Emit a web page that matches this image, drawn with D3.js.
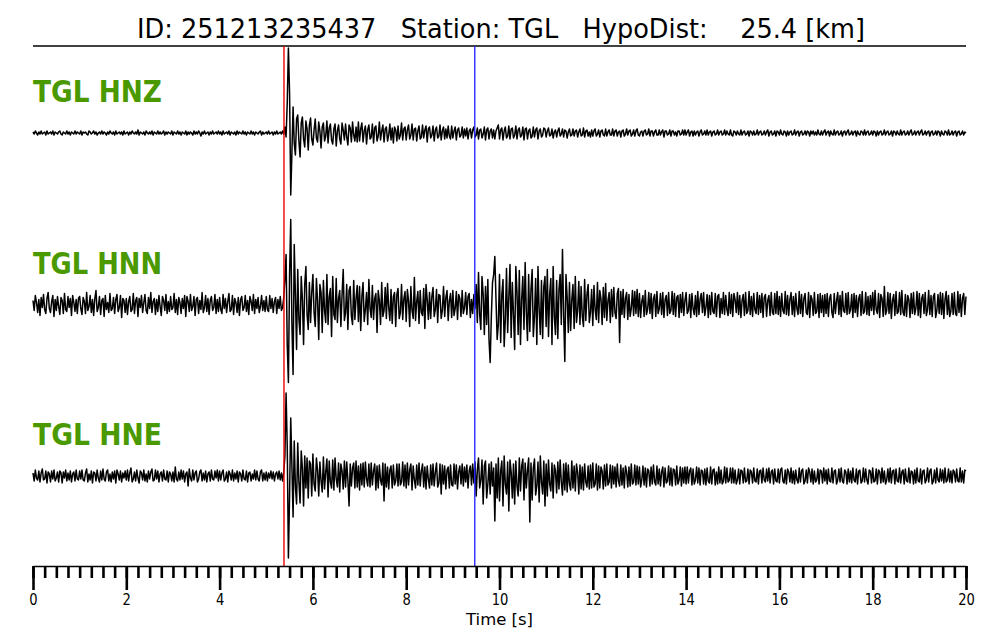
<!DOCTYPE html>
<html>
<head>
<meta charset="utf-8">
<script src="https://cdn.jsdelivr.net/npm/d3@7"></script>
<style>
  body { margin: 0; background: #fff; }
  svg { display: block; font-family: "DejaVu Sans", sans-serif; }
</style>
</head>
<body>
<svg width="1000" height="640"></svg>
<script>
let width = 1000, height = 640;

// header info
let eventId = "251213235437";
let station = "TGL";
let hypoDist = "25.4";

// picks [s]
let pPick = 5.38;
let sPick = 9.47;

// channels, one trace each (0..20 s, 40 samples per second, relative amplitude)
let channels = ["HNZ", "HNN", "HNE"];
let duration = 20;
let majorTicks = [0, 2, 4, 6, 8, 10, 12, 14, 16, 18, 20];

let hnz = [
  1,-1,2,0,-2,1,-1,2,-1,0,1,-2,2,-1,0,1,-1,2,-2,1,0,-1,1,2,-1,-2,1,0,-1,2,-1,1,-2,1,0,-1,2,-1,1,0,
  -1,2,-2,1,0,1,-1,-2,2,1,-1,0,2,-1,1,-2,0,1,-1,2,-1,1,0,-2,1,-1,2,0,-1,1,-2,2,-1,0,1,-1,1,-2,2,-1,
  0,1,-2,1,-1,2,0,-1,1,-1,3,-2,1,0,-1,1,-2,2,0,-1,1,-1,2,-2,1,0,-1,2,-1,1,-1,0,2,-2,1,-1,1,0,-1,2,
  -2,1,0,-1,2,-1,1,-2,1,0,-1,2,-2,1,-1,1,0,-2,2,-1,1,-1,2,0,-3,1,-1,2,-1,0,1,-2,1,-1,2,-1,0,1,-1,2,
  -1,1,-2,2,-1,0,1,-1,2,-2,1,0,-1,1,-2,2,-1,1,0,-1,2,-1,1,-2,1,0,-1,2,-1,1,-2,1,0,-1,1,2,-2,1,-1,0,
  1,-1,2,-1,0,1,-2,1,-1,2,-1,0,1,-1,2,-1,6,-4,30,85,40,-62,-20,26,-10,-22,14,18,-8,-24,10,16,-6,-14,12,4,-17,8,15,-6,
  -12,3,14,-5,-9,11,2,-15,6,10,-8,-3,12,-10,5,9,-7,-11,4,9,-13,2,8,-6,-11,10,3,-7,9,-4,-12,8,5,-9,11,-2,-8,6,-9,11,
  -8,4,10,-9,2,7,-11,3,8,-6,-4,9,-10,5,7,-8,-3,11,-7,2,8,-9,4,6,-8,-2,9,-7,5,-10,6,3,-8,7,-6,-2,10,-7,4,6,
  -7,3,8,-6,-2,9,-7,4,5,-8,2,7,-6,-4,8,-5,3,7,-9,4,6,-5,-2,7,-8,3,6,-5,-3,8,-7,2,6,-6,4,-5,7,-3,-6,7,
  -5,2,6,-7,3,5,-4,-2,6,-5,4,-3,5,-6,2,4,-5,3,6,-4,-2,5,-6,3,4,-5,-1,6,-7,3,5,-6,2,4,-5,3,-6,2,5,8,
  -6,3,5,-7,2,6,-5,-3,7,-6,4,5,-5,-2,7,-6,3,5,-4,-2,6,-7,4,5,-6,2,4,-5,-3,6,-4,3,5,-6,2,4,-4,-2,5,4,
  -4,2,5,-3,-2,4,-5,1,3,-4,2,5,-3,-1,4,-4,3,2,-5,1,4,-3,-2,4,-3,2,3,-4,1,4,-3,-2,5,-4,2,3,-3,1,-4,3,
  -3,2,4,-3,-1,3,-4,2,3,-2,-3,4,-3,1,3,-2,-2,4,-3,2,3,-3,1,2,-4,2,3,-3,-1,4,-2,2,3,-3,-1,3,-3,2,4,-2,
  -3,1,2,-3,2,3,-2,-1,4,-3,2,2,-3,1,3,-2,-2,3,-2,1,3,-4,2,2,-2,-1,3,-3,2,2,-2,1,-3,2,2,-2,-1,3,-2,3,
  -2,1,3,-3,1,2,-3,2,-2,1,2,-3,1,3,-2,-1,2,-2,3,-2,1,2,-3,1,2,-2,-1,3,-2,1,2,-2,-1,3,-2,2,-1,-2,3,-2,
  -3,2,1,-2,2,-1,-2,3,-2,1,2,-2,-1,2,-3,2,1,-2,2,-2,-1,3,-2,1,2,-2,-1,2,-2,1,3,-3,1,2,-2,-1,2,-3,2,1,
  -2,3,-1,-2,2,1,-3,2,-2,1,2,-2,-1,3,-2,1,2,-3,1,2,-2,-1,2,-2,2,1,-3,2,-1,2,-2,1,-2,3,-1,-2,2,-2,1,3,
  -2,1,2,-3,2,-1,-2,3,-2,1,2,-2,-1,2,-3,1,2,-2,1,3,-2,-1,2,-2,1,2,-3,2,-1,-2,2,1,-2,3,-2,1,2,-2,-1,2,
  -2,2,1,-3,2,-2,1,2,-2,-1,3,-2,1,2,-2,-1,2,-3,2,1,-2,2,-1,-2,3,-2,1,2,-2,-1,2,-2,1,3,-2,-1,2,-2,1,2,
  -2,1,3,-2,-1,2,-2,1,2,-3,1,2,-2,-1,2,-2,2,1,-3,2,-1,-2,2,1,-2,3,-2,-1,2,-2,1,2,-3,1,2,-2,-1,2,-2,1,
  0
];

let hnn = [
  4,-6,9,2,-8,5,-11,7,-3,10,-5,-9,6,12,-4,-8,3,9,-12,5,-6,8,-2,-10,7,4,-9,11,-5,-7,8,-3,6,-11,9,2,-7,5,-9,6,
  8,-4,-10,7,3,-9,12,-6,-2,9,-8,5,-11,6,14,-7,-3,8,-10,4,6,-12,9,-5,2,-8,11,-6,-4,7,-9,5,10,-7,-3,9,-13,6,4,-8,
  6,-10,3,8,-7,-5,11,-9,4,7,-12,6,-3,9,-8,2,10,-6,-9,7,-4,12,-8,3,6,-10,5,-7,9,-2,-11,8,4,-6,10,-9,3,-7,8,-5,
  -3,11,-8,5,-10,7,2,-9,6,-4,9,-12,8,3,-7,10,-6,-2,8,-11,5,7,-9,4,-5,12,-8,-3,9,-7,6,-10,4,8,-6,-3,10,-9,5,-7,
  7,-5,-9,10,-4,6,-8,3,11,-7,-5,9,-10,6,2,-8,7,-11,5,8,-6,-3,9,-7,4,-10,8,3,-6,10,-9,5,-4,7,-8,-2,9,-6,4,-7,
  8,-5,-7,9,-4,6,-8,3,7,-9,5,-4,8,-6,-3,7,25,50,-40,-78,30,85,-20,-70,60,10,-45,35,-15,-30,28,5,-40,20,38,-10,-25,22,-18,12,
  30,-8,-22,26,4,-35,20,12,-28,24,-6,-18,30,-20,8,16,-32,28,-10,-15,26,-18,6,14,-22,10,35,-16,-8,20,-25,14,18,-12,-20,24,-15,6,19,-17,
  18,-26,8,22,-17,-5,12,-20,25,-4,-13,19,-15,6,11,-28,14,4,-20,22,-12,-6,17,-14,21,-3,-16,15,-19,8,12,-22,10,16,-14,-8,20,-15,6,13,
  -17,15,4,-22,18,-6,-14,27,-16,3,13,-19,14,-8,-11,16,-24,20,5,-15,12,-14,8,17,-12,-5,15,-18,10,9,-14,-6,18,-12,7,14,-16,4,11,-13,
  14,-11,-4,13,-15,10,6,-12,14,-9,-3,12,-10,8,11,-13,5,-9,10,-4,20,-18,32,-10,-25,28,10,-30,18,-20,25,-35,-58,-12,22,30,48,5,-35,-20,
  30,-38,10,25,-42,-15,36,-28,8,40,-33,22,-10,-45,38,12,-30,34,-40,5,28,-25,42,-8,-36,30,-27,15,35,-32,-12,26,-40,38,-5,-30,24,-34,18,28,
  -22,35,-32,10,26,-40,38,-12,-30,24,-34,15,30,-20,55,-10,-57,30,8,-28,22,-26,5,20,-24,28,-18,-6,23,-20,18,-12,-22,25,-16,10,20,-18,-8,15,
  -21,19,-5,-15,22,-18,14,6,-20,17,-13,21,-16,4,12,-18,15,-12,17,-8,-14,11,16,-38,13,-10,15,-13,6,12,-15,10,-12,-4,14,-11,13,-9,15,-12,
  11,-13,3,9,-12,14,-10,-5,12,-9,11,-14,6,10,-12,13,-9,-4,11,-10,12,-13,5,9,-11,12,-9,-6,13,-10,11,-12,7,9,-13,10,-8,12,-11,4,
  12,-9,-6,10,-13,11,-4,-10,9,-12,13,-10,5,11,-8,12,-11,-3,10,-13,9,-10,12,-7,-9,11,-12,8,10,-13,6,-9,12,-10,9,-5,-11,12,-9,10,
  -12,11,5,-8,12,-10,9,-13,4,10,-11,12,-9,-6,13,-10,8,-12,11,-5,-9,12,-10,9,-8,11,-13,7,10,-12,4,9,-11,12,-8,-10,11,-9,13,-10,
  8,-12,11,-6,-9,13,-10,9,-11,5,12,-10,8,-12,11,-4,-10,13,-9,10,-12,6,11,-8,-10,12,-13,9,5,-11,12,-9,-7,10,-13,11,-8,9,-12,10,
  -9,11,-12,6,10,-8,-13,11,-9,4,12,-10,9,-12,13,-6,-8,11,-10,12,-9,-5,10,-13,11,-8,9,-12,6,10,-11,13,-9,-7,12,-10,8,-11,9,-6,
  12,-10,14,-5,-9,11,-13,10,6,-12,18,-10,-6,12,-9,11,-14,4,10,-11,13,-9,-7,12,-10,14,-8,-11,10,-12,9,5,-13,11,-9,12,-10,-4,13,-11,
  11,-13,6,10,-9,12,-11,-5,14,-10,9,-12,8,11,-13,-6,10,-9,12,-10,11,-14,5,13,-10,9,-12,-7,11,-10,12,-9,-11,13,-8,10,-12,6,11,-10,
  8
];

let hne = [
  3,-5,6,-2,-4,5,-6,3,7,-4,-3,5,-7,4,2,-6,5,-3,6,-5,-2,4,-6,5,3,-7,4,-2,6,-5,3,-4,5,-6,2,4,-5,6,-3,-4,
  5,-3,6,-4,-5,3,7,-6,2,-4,5,-7,4,3,-5,6,-2,-6,5,-4,7,-3,-5,4,6,-5,2,-6,4,-3,5,-7,6,2,-4,5,-6,3,-2,5,
  -4,6,-5,3,8,-6,-3,4,-5,6,-2,-7,5,3,-4,6,-5,2,-6,5,-3,4,7,-5,-4,6,-3,5,-6,2,4,-5,6,-3,-4,5,-6,4,2,-5,
  4,-6,9,-3,-5,4,-4,6,-3,5,-6,2,4,-10,7,-2,-5,6,-4,3,5,-6,-3,4,6,-5,3,-4,5,-6,2,4,-5,6,-3,-4,5,-2,6,-5,
  5,-4,3,6,-5,-3,4,-6,5,2,-4,6,-5,3,-3,5,-6,4,2,-5,6,-3,-4,5,-6,3,4,-5,2,-3,6,-4,5,-3,-5,4,6,-5,3,-4,
  4,-5,3,-2,5,-3,4,-5,2,4,-3,5,-4,3,-5,4,20,83,30,-82,-20,58,10,-41,35,-10,-28,33,-6,-27,25,8,-30,20,-12,18,-22,15,12,-20,
  22,-8,-15,18,6,-20,14,-5,-16,19,-13,4,17,-21,15,-6,-12,16,-14,18,-3,-11,13,-16,12,5,-13,15,-11,14,-4,-30,12,-10,8,13,-12,15,-11,10,
  -14,12,-9,13,-11,14,-3,-10,12,-11,13,-9,5,12,-14,10,-12,11,-4,-9,13,-25,12,-11,9,-13,6,10,-12,11,-9,-5,12,-10,12,-9,-6,14,-10,11,
  -12,13,-9,6,12,-14,10,-4,-12,11,-9,13,-10,5,12,-11,9,-13,10,-3,-12,11,-9,12,-10,4,13,-11,-7,12,-18,11,-8,10,-13,6,9,-12,11,-9,
  -10,12,-8,11,-13,4,10,-8,12,-10,9,-6,11,-12,5,10,-9,12,-7,14,-20,6,18,-12,-4,16,-28,10,15,-22,-8,12,-18,14,-10,8,-45,12,-22,18,
  -25,5,15,-30,20,-8,-18,14,-35,16,4,-22,12,-28,15,-10,-20,18,-15,10,17,-24,13,-12,6,18,-46,13,-24,8,17,-19,-10,14,-26,20,-6,-18,15,-30,
  12,-20,16,-8,-15,13,-22,11,5,-17,14,-13,16,-6,-19,12,-14,13,-16,11,-8,-14,15,-12,10,-15,12,4,-18,11,-13,9,-14,12,-6,-11,10,-13,11,-12,
  13,-11,-8,12,-14,10,-12,9,5,-13,11,-10,12,-9,-6,11,-12,10,-8,9,-11,12,-5,-10,11,-9,8,-12,10,4,-11,9,-10,12,-8,-6,11,-9,10,-8,
  9,-11,-4,10,-9,8,-11,7,5,-10,9,-8,11,-6,-9,10,-8,7,-10,4,9,-11,8,-7,-5,10,-9,8,-10,7,6,-9,10,-8,-4,9,-10,8,-7,9,
  -8,9,-7,5,8,-9,7,-8,-4,9,-7,8,-9,6,5,-8,7,-9,8,-5,-7,9,-8,6,7,-9,4,-8,9,-7,6,-8,-5,9,-7,8,-6,-4,8,-7,
  8,-7,6,-8,-4,7,-8,6,5,-7,8,-6,-5,7,-8,6,4,-7,8,-5,-6,7,-8,5,6,-7,8,-4,-6,7,-5,8,-7,4,6,-8,7,-5,-6,7,
  -7,6,8,-5,-7,6,-8,7,4,-6,8,-7,5,-8,6,-4,-7,8,-6,5,7,-8,-5,6,-7,8,4,-6,7,-8,5,-6,-4,7,-8,6,5,-7,8,-5,
  6,-8,7,-5,-6,8,-7,5,6,-8,-4,7,-6,8,-5,-7,6,4,-8,7,-6,5,-7,8,-4,-6,7,-8,5,6,-7,-5,8,-6,7,-4,-8,6,5,-7,
  8,-6,-5,7,-8,6,4,-7,8,-6,5,-8,-4,7,-6,8,-7,5,6,-8,7,-5,-6,8,-7,4,6,-8,7,-5,-6,8,-7,5,4,-8,6,-7,8,-5,
  -6,7,-8,5,6,-7,-4,8,-6,5,7,-8,-5,6,-7,8,-4,-6,7,-5,6,-7,8,-6,-4,7,-6,5,-7,6,4,-6,7,-5,-6,8,-6,5,-7,6,
  5
];

let traces = [hnz, hnn, hne];

let svg = d3.select("svg")
    .attr("viewBox", "0 0 " + width + " " + height);

let x = d3.scaleLinear().domain([0, duration]).range([33, 966]);
let rowY = d3.scalePoint().domain(channels).range([133, 476]);
let amp = d3.scaleLinear().domain([-100, 100]).range([100, -100]);

let yTop = 46, yBottom = 566;

// title
svg.append("text")
    .attr("x", 501)
    .attr("y", 38)
    .attr("text-anchor", "middle")
    .attr("font-size", 27)
    .attr("textLength", 728)
    .attr("lengthAdjust", "spacingAndGlyphs")
    .style("white-space", "pre")
    .text(`ID: ${eventId}   Station: ${station}   HypoDist:    ${hypoDist} [km]`);

// top spine
svg.append("line")
    .attr("x1", x(0)).attr("x2", x(duration))
    .attr("y1", yTop).attr("y2", yTop)
    .attr("stroke", "black").attr("stroke-width", 1.5);

// traces
channels.forEach((ch, k) => {
  let base = rowY(ch);
  let tr = traces[k];
  let line = d3.line()
      .x((d, i) => x(i * duration / (tr.length - 1)))
      .y(d => base + amp(d));

  svg.append("path")
      .datum(tr)
      .attr("fill", "none")
      .attr("stroke", "black")
      .attr("stroke-width", 1.5)
      .attr("stroke-linejoin", "round")
      .attr("d", line);

  svg.append("text")
      .attr("x", 33)
      .attr("y", base - 31)
      .attr("font-size", 31)
      .attr("font-weight", "bold")
      .attr("fill", "#4a9900")
      .attr("textLength", 129)
      .attr("lengthAdjust", "spacingAndGlyphs")
      .text(station + " " + ch);
});

// picks
svg.append("line")
    .attr("x1", x(pPick)).attr("x2", x(pPick))
    .attr("y1", yTop).attr("y2", yBottom)
    .attr("stroke", "#ee0000").attr("stroke-width", 1.4);

svg.append("line")
    .attr("x1", x(sPick)).attr("x2", x(sPick))
    .attr("y1", yTop).attr("y2", yBottom)
    .attr("stroke", "#2a2aff").attr("stroke-width", 1.4);

// x axis: minor then major ticks
let minorAxis = d3.axisBottom(x)
    .tickValues(d3.range(0, duration + 0.001, 0.25))
    .tickSize(12)
    .tickSizeOuter(0)
    .tickFormat("");

let majorAxis = d3.axisBottom(x)
    .tickValues(majorTicks)
    .tickSize(24)
    .tickSizeOuter(0)
    .tickPadding(4)
    .tickFormat(d3.format("d"));

let gMinor = svg.append("g")
    .attr("transform", `translate(0,${yBottom})`)
    .call(minorAxis);
gMinor.selectAll(".tick line").attr("stroke-width", 2.6);
gMinor.select(".domain").attr("stroke-width", 1.5);

let gMajor = svg.append("g")
    .attr("transform", `translate(0,${yBottom})`)
    .call(majorAxis);
gMajor.select(".domain").remove();
gMajor.selectAll(".tick line").attr("stroke-width", 2.6);
gMajor.selectAll(".tick text")
    .attr("font-family", "DejaVu Sans")
    .attr("font-size", 16)
    .attr("transform", "scale(0.82,1)")
    .attr("fill", "black");

svg.append("text")
    .attr("x", x(10))
    .attr("y", 625)
    .attr("text-anchor", "middle")
    .attr("font-size", 16)
    .attr("textLength", 67)
    .attr("lengthAdjust", "spacingAndGlyphs")
    .text("Time [s]");
</script>
</body>
</html>
